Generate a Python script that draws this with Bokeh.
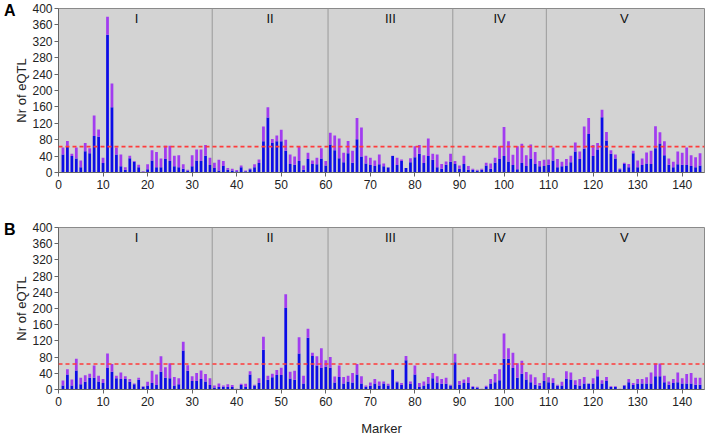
from bokeh.plotting import figure
from bokeh.layouts import column
from bokeh.models import Span, Label, SingleIntervalTicker, Range1d, LinearAxis, FixedTicker
from bokeh.embed import file_html
from bokeh.resources import INLINE

markers = list(range(1, 145))
chrom_names = ["I", "II", "III", "IV", "V"]
chrom_bounds = [0.5, 34.5, 60.5, 88.5, 109.5, 144.5]
threshold = 63

a_total = [61, 77, 46, 61, 29, 72, 59, 139, 105, 36, 380, 217, 61, 44, 13, 41, 28, 19, 3, 20,
           54, 50, 34, 65, 65, 41, 42, 20, 7, 42, 56, 56, 67, 36, 24,
           31, 28, 11, 9, 6, 17, 5, 10, 20, 32, 112, 159, 82, 90, 104, 80, 44, 39, 62, 17,
           48, 29, 36, 59, 28,
           97, 90, 83, 48, 77, 53, 133, 110, 41, 36, 29, 44, 22, 13, 41, 36, 32, 11, 35, 64,
           67, 42, 83, 46, 44, 21, 27, 46,
           28, 17, 41, 16, 9, 7, 9, 24, 22, 36, 64, 111, 76, 43, 64, 70, 42, 68, 50, 28, 31,
           32, 61, 33, 26, 33, 41, 73, 51, 112, 133, 67, 72, 153, 99, 54, 44, 10, 24, 21, 53,
           29, 34, 49, 53, 113, 98, 76, 34, 26, 51, 48, 61, 42, 37, 47]
a_blue = [44, 62, 40, 34, 13, 52, 47, 89, 87, 23, 336, 159, 44, 15, 7, 35, 26, 13, 2, 8,
          29, 13, 13, 33, 28, 15, 13, 9, 5, 15, 29, 28, 41, 18, 11,
          5, 16, 7, 5, 3, 13, 3, 8, 13, 23, 76, 134, 72, 76, 76, 53, 21, 19, 28, 7,
          33, 21, 20, 34, 17,
          68, 54, 35, 25, 47, 24, 81, 39, 22, 18, 16, 20, 15, 12, 40, 18, 28, 11, 25, 37,
          46, 23, 40, 31, 13, 9, 19, 26,
          21, 9, 21, 7, 7, 5, 7, 17, 9, 24, 33, 40, 27, 18, 8, 23, 16, 34, 21, 15, 16,
          19, 29, 13, 15, 17, 25, 51, 33, 58, 94, 40, 56, 135, 78, 46, 34, 8, 21, 13, 47,
          13, 18, 22, 21, 59, 71, 42, 19, 13, 20, 19, 18, 16, 13, 17]

b_total = [22, 50, 25, 76, 29, 35, 39, 59, 34, 26, 89, 63, 34, 42, 33, 26, 15, 29, 8, 19,
           46, 37, 82, 55, 65, 31, 28, 118, 60, 33, 41, 47, 38, 28, 10,
           15, 10, 13, 11, 2, 14, 14, 45, 12, 28, 130, 34, 39, 48, 54, 235, 44, 46, 129, 34,
           150, 91, 82, 102, 72,
           80, 32, 59, 31, 34, 41, 63, 33, 10, 17, 26, 20, 20, 14, 50, 20, 16, 83, 20, 59,
           16, 20, 31, 41, 33, 26, 29, 12,
           88, 21, 25, 30, 8, 7, 2, 9, 26, 38, 50, 138, 102, 91, 65, 71, 43, 37, 30, 16, 41,
           30, 28, 12, 19, 45, 42, 23, 26, 31, 15, 28, 49, 23, 31, 8, 8, 2, 11, 26, 16,
           26, 26, 30, 42, 64, 64, 34, 20, 26, 42, 28, 38, 41, 29, 29]
b_blue = [10, 37, 10, 47, 13, 19, 29, 29, 20, 16, 53, 44, 28, 26, 26, 19, 13, 24, 7, 10,
          16, 11, 44, 29, 28, 10, 13, 96, 46, 21, 21, 26, 20, 11, 5,
          6, 7, 6, 6, 1, 11, 6, 37, 10, 16, 98, 24, 30, 36, 36, 201, 27, 24, 89, 15,
          128, 83, 59, 53, 56,
          54, 17, 31, 15, 20, 17, 37, 15, 7, 9, 15, 10, 15, 10, 49, 18, 12, 72, 14, 37,
          6, 10, 15, 28, 17, 14, 14, 10,
          67, 12, 16, 16, 6, 5, 1, 6, 15, 18, 23, 76, 76, 53, 29, 39, 25, 18, 12, 10, 21,
          18, 16, 9, 10, 26, 25, 11, 10, 15, 14, 15, 33, 15, 21, 6, 6, 1, 10, 18, 11,
          15, 15, 15, 15, 33, 33, 18, 12, 16, 18, 15, 15, 15, 12, 12]

BLUE = "#0c0ce6"
PURPLE = "#a23cf0"
FONT = "Liberation Sans"


def panel(letter, blue, total, height, top, bottom, show_xlabel):
    p = figure(width=706, height=height, output_backend="svg", toolbar_location=None,
               x_range=Range1d(0, 145), y_range=Range1d(0, 400),
               min_border_left=56, min_border_right=2,
               min_border_top=top, min_border_bottom=bottom)
    p.background_fill_color = "#d3d3d3"
    p.border_fill_color = "white"
    p.outline_line_color = "#8a8a8a"
    p.xgrid.visible = False
    p.ygrid.visible = False

    p.vbar(x=markers, width=0.62, bottom=0, top=blue, fill_color=BLUE, line_color=None)
    p.vbar(x=markers, width=0.62, bottom=blue, top=total, fill_color=PURPLE, line_color=None)

    for b in chrom_bounds[1:-1]:
        p.add_layout(Span(location=b, dimension="height", line_color="#9a9a9a", line_width=1))
    p.add_layout(Span(location=threshold, dimension="width", line_color="#ff3b3b",
                      line_width=1.6, line_dash="4 3"))

    for i, name in enumerate(chrom_names):
        cx = (chrom_bounds[i] + chrom_bounds[i + 1]) / 2
        p.add_layout(Label(x=cx, y=394, text=name, text_align="center", text_baseline="top",
                           text_font=FONT, text_font_size="13px", text_color="#111111"))

    for ax in (p.xaxis[0], p.yaxis[0]):
        ax.axis_line_color = "#666666"
        ax.major_tick_line_color = "#666666"
        ax.major_tick_in = 0
        ax.major_tick_out = 4
        ax.minor_tick_line_color = None
        ax.major_label_text_font = FONT
        ax.major_label_text_font_size = "12px"
        ax.major_label_text_color = "#222222"
        ax.major_label_standoff = 3
        ax.axis_label_text_font = FONT
        ax.axis_label_text_font_size = "13px"
        ax.axis_label_text_font_style = "normal"
        ax.axis_label_text_color = "#222222"
    p.xaxis[0].ticker = SingleIntervalTicker(interval=10)
    p.yaxis[0].ticker = SingleIntervalTicker(interval=40)
    p.yaxis[0].major_label_standoff = 2
    p.yaxis[0].axis_label = "Nr of eQTL"
    p.yaxis[0].axis_label_standoff = 0
    if show_xlabel:
        p.xaxis[0].axis_label = "Marker"
        p.xaxis[0].axis_label_standoff = 12

    # panel letter as the single label of an outer, invisible left axis
    lax = LinearAxis(ticker=FixedTicker(ticks=[396]), major_label_overrides={396: letter},
                     axis_line_color=None, major_tick_line_color=None,
                     minor_tick_line_color=None, major_tick_in=0, major_tick_out=0,
                     major_label_standoff=-4, major_label_text_font=FONT,
                     major_label_text_font_size="16px",
                     major_label_text_font_style="bold", major_label_text_color="black")
    p.add_layout(lax, "left")
    return p


pa = panel("A", a_blue, a_total, 198, 8, 26, False)
pb = panel("B", b_blue, b_total, 240, 29, 47, True)
layout = column(pa, pb, spacing=0)

open("out.html", "w").write(file_html(layout, INLINE))
